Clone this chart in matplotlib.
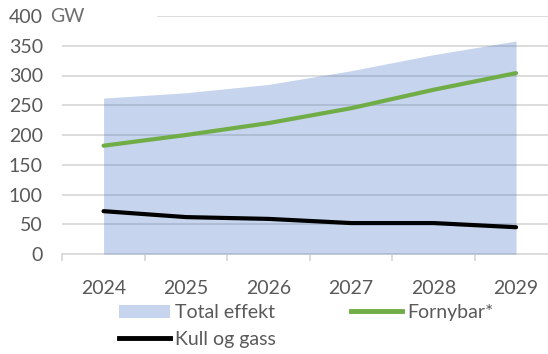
import matplotlib
matplotlib.use("Agg")
import matplotlib.pyplot as plt
from matplotlib.patches import Patch, Rectangle
from matplotlib.lines import Line2D

years = ["2024", "2025", "2026", "2027", "2028", "2029"]
total_effekt = [262, 271, 285, 308, 335, 358]
fornybar = [182, 200, 220, 245, 276, 304]
kull_og_gass = [72, 62, 59, 52, 52, 45]
y_ticks = [0, 50, 100, 150, 200, 250, 300, 350, 400]

FONT = "Lato"
TXT = "#595959"
AREA = "#4472C4"
GREEN = "#70AD47"
GRID = "#D9D9D9"
FS = 14

fig = plt.figure(figsize=(5.48, 3.54), dpi=100)
ax = fig.add_axes([62.3 / 548, 100 / 354, 495 / 548, 238 / 354])

x = list(range(len(years)))
ax.fill_between(x, total_effekt, 0, color=AREA, alpha=0.3, linewidth=0, zorder=2)
ax.plot(x, fornybar, color=GREEN, linewidth=3, solid_capstyle="round", zorder=3)
ax.plot(x, kull_og_gass, color="black", linewidth=3, solid_capstyle="round", zorder=3)

ax.set_xlim(-0.5, len(years) - 0.5)
ax.set_ylim(0, 400)

for v in y_ticks[1:]:
    ax.axhline(v, color=GRID, linewidth=1.3, zorder=1)
# unit label sits on a white box that hides the start of the top gridline
ax.add_patch(Rectangle((0, 0.965), 0.191, 0.07, transform=ax.transAxes,
                       facecolor="white", edgecolor="none", zorder=1.5, clip_on=False))
ax.text(-12.3 / 495, 400, "GW", transform=ax.get_yaxis_transform(),
        ha="left", va="center", fontsize=14, color="#6F6F6F", family=FONT)

for s in ["top", "right", "left"]:
    ax.spines[s].set_visible(False)
ax.spines["bottom"].set_color(GRID)
ax.spines["bottom"].set_linewidth(1.3)
ax.spines["bottom"].set_zorder(1)

ax.set_yticks(y_ticks)
ax.set_yticklabels([str(v) for v in y_ticks])
ax.tick_params(axis="y", length=0, pad=14, labelsize=FS, labelcolor=TXT)
ax.set_xticks(x)
ax.set_xticklabels(years)
ax.tick_params(axis="x", which="major", length=0, pad=18.5, labelsize=FS, labelcolor=TXT)
ax.set_xticks([i - 0.5 for i in range(len(years) + 1)], minor=True)
ax.tick_params(axis="x", which="minor", length=5, width=1.3, color=GRID)
for lab in ax.get_xticklabels() + ax.get_yticklabels():
    lab.set_family(FONT)

handles = [
    Patch(facecolor=AREA, alpha=0.3, edgecolor="none"),
    Line2D([], [], color="black", linewidth=3.5),
    Line2D([], [], color=GREEN, linewidth=3.5),
]
labels = ["Total effekt", "Kull og gass", "Fornybar*"]
leg = fig.legend(handles, labels, ncol=2, loc="upper left",
                 bbox_to_anchor=(119 / 548, 1 - 304 / 354),
                 frameon=False, prop={"family": FONT, "size": FS},
                 handlelength=2.6, handleheight=0.65, handletextpad=0.3,
                 columnspacing=3.85, labelspacing=0.5, borderaxespad=0, borderpad=0)
for t in leg.get_texts():
    t.set_color(TXT)

fig.savefig("out.png", dpi=100)
